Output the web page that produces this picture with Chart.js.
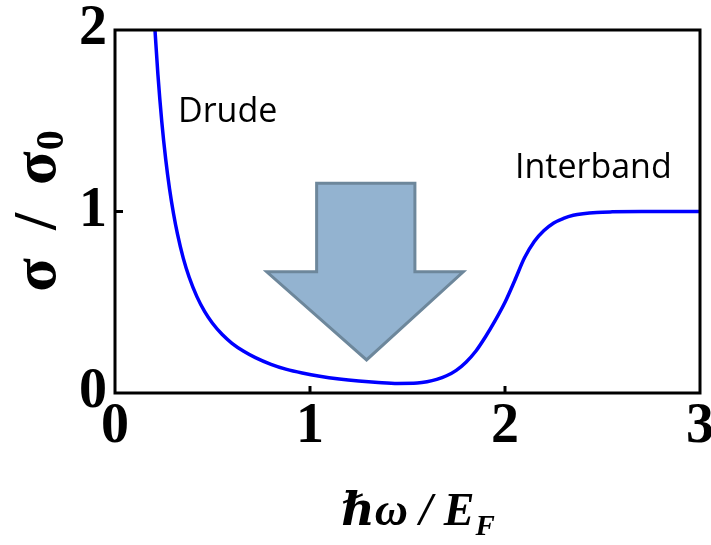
<!DOCTYPE html>
<html><head><meta charset="utf-8">
<script src="https://cdn.jsdelivr.net/npm/chart.js@4/dist/chart.umd.min.js"></script>
<style>html,body{margin:0;padding:0;background:#fff;overflow:hidden}#wrap{width:711px;height:545px}</style>
</head><body><div id="wrap"><canvas id="c" width="711" height="545"></canvas></div>
<script>
// ---- data ----
const photonEnergy = [0.205,0.22,0.24,0.26,0.28,0.30,0.32,0.35,0.38,0.42,0.46,0.50,0.55,0.60,0.66,0.72,0.80,0.88,0.96,1.05,1.15,1.25,1.35,1.45,1.55,1.60,1.65,1.70,1.75,1.80,1.85,1.90,1.95,2.00,2.05,2.10,2.15,2.20,2.25,2.30,2.35,2.40,2.47,2.55,2.70,2.85,3.00];
const conductivity = [2.00,1.755,1.494,1.288,1.123,0.989,0.878,0.743,0.639,0.531,0.448,0.384,0.322,0.274,0.230,0.195,0.158,0.130,0.110,0.092,0.077,0.066,0.058,0.053,0.055,0.062,0.075,0.095,0.125,0.17,0.23,0.31,0.40,0.50,0.62,0.745,0.835,0.895,0.937,0.962,0.979,0.988,0.995,0.998,1.0,1.0,1.0];
const xTickValues = [0,1,2,3];
const yTickValues = [0,1,2];
const xAxisTitle = ['\u210F\u03C9 / E','F'];
const yAxisTitle = ['\u03C3 \u2009/ \u2009\u03C3','0'];
const regionLabels = ['Drude','Interband'];
const regionLabelX = [0.323, 2.051];
const regionLabelY = [1.495, 1.185];
const arrowX = [1.034,1.538,1.538,1.786,1.290,0.778,1.034];
const arrowY = [1.155,1.155,0.668,0.668,0.182,0.668,0.668];

const SERIF = '"Liberation Serif","Times New Roman","DejaVu Serif",serif';

const decor = {
  id:'decor',
  beforeDatasetsDraw(chart){
    const {ctx, scales:{x,y}} = chart;
    ctx.save();
    ctx.beginPath();
    arrowX.forEach((v,i)=>{
      const px = x.getPixelForValue(v), py = y.getPixelForValue(arrowY[i]);
      i ? ctx.lineTo(px,py) : ctx.moveTo(px,py);
    });
    ctx.closePath();
    ctx.fillStyle = '#93b3d0';
    ctx.fill();
    ctx.lineWidth = 3;
    ctx.lineJoin = 'miter';
    ctx.strokeStyle = '#6d879b';
    ctx.stroke();
    ctx.restore();
  },
  afterDraw(chart){
    const {ctx, chartArea:a, scales:{x,y}} = chart;
    ctx.save();
    // frame
    ctx.strokeStyle = '#000';
    ctx.lineWidth = 3;
    ctx.strokeRect(a.left, a.top, a.right-a.left, a.bottom-a.top);
    // inward ticks
    xTickValues.slice(1,-1).forEach(v=>{
      const px = x.getPixelForValue(v);
      ctx.beginPath(); ctx.moveTo(px,a.bottom); ctx.lineTo(px,a.bottom-7); ctx.stroke();
    });
    yTickValues.slice(1,-1).forEach(v=>{
      const py = y.getPixelForValue(v);
      ctx.beginPath(); ctx.moveTo(a.left,py); ctx.lineTo(a.left+8,py); ctx.stroke();
    });
    // region labels
    ctx.fillStyle = '#000';
    ctx.font = '34px "Open Sans", Lato, sans-serif';
    ctx.textBaseline = 'alphabetic';
    ctx.textAlign = 'left';
    regionLabels.forEach((t,i)=>{
      ctx.fillText(t, x.getPixelForValue(regionLabelX[i]), y.getPixelForValue(regionLabelY[i]));
    });
    // x axis title
    const cx = (a.left+a.right)/2;
    ctx.font = 'italic bold 46px ' + SERIF;
    const w1 = ctx.measureText(xAxisTitle[0]).width;
    ctx.font = 'italic bold 29px ' + SERIF;
    const w2 = ctx.measureText(xAxisTitle[1]).width;
    const startX = cx + 10 - (w1+w2)/2;
    const base = a.bottom + 132;
    ctx.font = 'italic bold 46px ' + SERIF;
    ctx.fillText(xAxisTitle[0], startX, base);
    ctx.font = 'italic bold 29px ' + SERIF;
    ctx.fillText(xAxisTitle[1], startX + w1 + 1, base + 10);
    // y axis title (rotated)
    const cy = (a.top+a.bottom)/2;
    ctx.translate(55, cy);
    ctx.rotate(-Math.PI/2);
    ctx.font = 'bold 62px ' + SERIF;
    const v1 = ctx.measureText(yAxisTitle[0]).width;
    ctx.font = 'bold 40px ' + SERIF;
    const v2 = ctx.measureText(yAxisTitle[1]).width;
    const sx = -(v1+v2)/2;
    ctx.font = 'bold 62px ' + SERIF;
    ctx.fillText(yAxisTitle[0], sx, 0);
    ctx.font = 'bold 40px ' + SERIF;
    ctx.fillText(yAxisTitle[1], sx + v1 + 1, 8);
    ctx.restore();
  }
};

new Chart(document.getElementById('c'), {
  type:'line',
  data:{
    datasets:[{
      data: photonEnergy.map((v,i)=>({x:v, y:conductivity[i]})),
      borderColor:'#0000ff',
      borderWidth:3.5,
      pointRadius:0,
      fill:false,
      cubicInterpolationMode:'monotone'
    }]
  },
  options:{
    responsive:false,
    animation:false,
    devicePixelRatio:1,
    layout:{padding:{left:0,top:30,right:11,bottom:0}},
    plugins:{legend:{display:false},tooltip:{enabled:false},title:{display:false}},
    scales:{
      x:{
        type:'linear', min:0, max:3,
        afterBuildTicks:s=>{ s.ticks = xTickValues.map(v=>({value:v})); },
        afterFit:s=>{ s.height = 152; s.paddingLeft = 0; s.paddingRight = 0; },
        grid:{display:false, drawTicks:false},
        border:{display:false},
        ticks:{color:'#000', padding:1, maxRotation:0, autoSkip:false, font:{family:SERIF, size:56, weight:'bold'}}
      },
      y:{
        type:'linear', min:0, max:2,
        afterBuildTicks:s=>{ s.ticks = yTickValues.map(v=>({value:v})); },
        afterFit:s=>{ s.width = 115; s.paddingTop = 0; s.paddingBottom = 0; },
        grid:{display:false, drawTicks:false},
        border:{display:false},
        ticks:{color:'#000', padding:8, autoSkip:false, font:{family:SERIF, size:56, weight:'bold'}}
      }
    }
  },
  plugins:[decor]
});
</script>
</body></html>
